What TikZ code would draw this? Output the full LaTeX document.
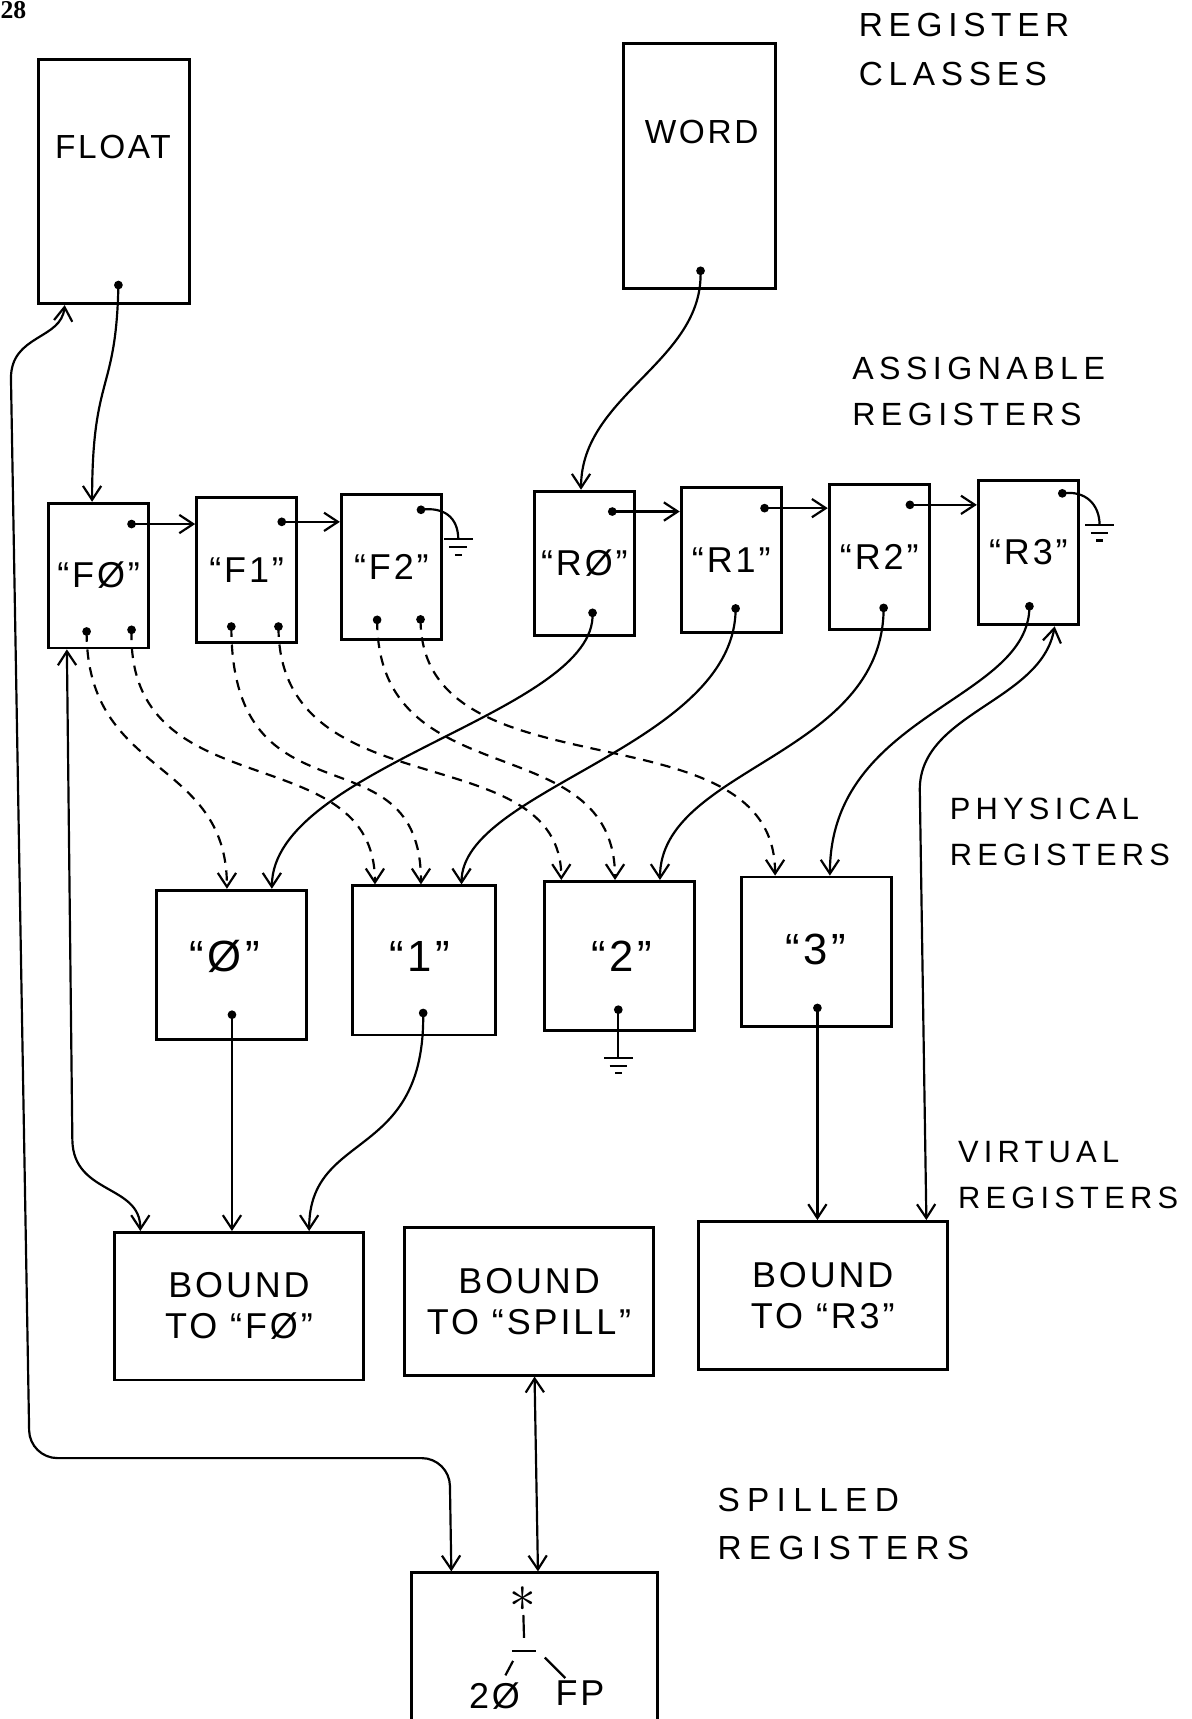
\documentclass[tikz,border=0pt]{standalone}
\usepackage{fontspec}
\setmainfont{Liberation Sans}
\newfontfamily\hand[LetterSpace=8]{Liberation Sans}
\newfontfamily\handwide[LetterSpace=17]{Liberation Sans}
\newfontfamily\handwider[LetterSpace=22]{Liberation Sans}
\newfontfamily\pagefont{Liberation Serif}
\usetikzlibrary{arrows.meta, calc}

\tikzset{
  regbox/.style={draw, line width=1.1pt, inner sep=0pt},
  classbox/.style={regbox, minimum width=2.07cm, minimum height=3.345cm},
  asgbox/.style={regbox, minimum width=1.37cm, minimum height=1.98cm, font=\hand\fontsize{14}{14}\selectfont},
  physbox/.style={regbox, minimum width=2.05cm, minimum height=2.04cm},
  virtbox/.style={regbox, minimum width=3.41cm, minimum height=2.02cm, align=center, font=\hand\fontsize{14}{16}\selectfont},
  blob/.style={circle, fill, inner sep=0pt, minimum size=3.4pt},
  boxtext/.style={inner sep=0pt, font=\hand\fontsize{13}{13}\selectfont},
  regtext/.style={inner sep=0pt, font=\hand\fontsize{17}{17}\selectfont},
  layerlbl/.style={anchor=west, inner sep=0pt, align=left, font=\handwide\fontsize{12}{18}\selectfont},
  conn/.style={line width=0.85pt},
  dconn/.style={conn, dash pattern=on 4pt off 3pt},
  gnd/.pic={\draw[line width=0.85pt] (-13,0) -- (13,0) (-8,7) -- (8,7) (-3,14) -- (3,14);}
}

\begin{document}
\begin{tikzpicture}[x=0.015cm, y=-0.015cm, >={Straight Barb[length=1.9mm,width=2.5mm]}]
  \useasboundingbox (0,0) rectangle (1087,1568);

  \node[anchor=north west, inner sep=0pt, font=\pagefont\bfseries\fontsize{10}{10}\selectfont] (pg) at (0,1) {28};

  \node[classbox] (float) at (104,165.5) {};
  \node[boxtext] (floatT) at (103,134) {FLOAT};
  \node[classbox] (word) at (638,151.5) {};
  \node[boxtext] (wordT) at (640,120) {WORD};

  \node[asgbox] (f0) at (90,525) {“FØ”};
  \node[asgbox] (f1) at (225,520) {“F1”};
  \node[asgbox] (f2) at (357,517) {“F2”};
  \node[asgbox] (r0) at (533,514) {“RØ”};
  \node[asgbox] (r1) at (667,511) {“R1”};
  \node[asgbox] (r2) at (802,508) {“R2”};
  \node[asgbox] (r3) at (938,504) {“R3”};

  \node[physbox] (p0) at (211,880) {};
  \node[regtext] (p0T) at (205,872) {“Ø”};
  \node[physbox, minimum width=1.96cm] (p1) at (387,876) {};
  \node[regtext] (p1T) at (383,872) {“1”};
  \node[physbox] (p2) at (565,872) {};
  \node[regtext] (p2T) at (567,872) {“2”};
  \node[physbox] (p3) at (745,868) {};
  \node[regtext] (p3T) at (744,866) {“3”};

  \node[virtbox] (v0) at (218,1191.5) {BOUND\\TO “FØ”};
  \node[virtbox] (vs) at (482.6,1187) {BOUND\\TO “SPILL”};
  \node[virtbox] (v3) at (750.5,1181.5) {BOUND\\TO “R3”};

  \node[regbox, minimum width=3.37cm, minimum height=2.48cm] (spill) at (487.7,1517.3) {};
  \node[inner sep=1pt, font=\fontsize{20}{20}\selectfont] (star) at (477,1459) {$\ast$};
  \coordinate (bar) at (478,1506);
  \node[boxtext, font=\hand\fontsize{14}{14}\selectfont] (twenty) at (451,1547) {2Ø};
  \node[boxtext, font=\hand\fontsize{14}{14}\selectfont] (fp) at (529,1544) {FP};
  \draw[conn] (star) -- ($(bar)+(0,-12)$);
  \draw[conn] ($(bar)+(-11,0)$) -- ($(bar)+(11,0)$);
  \draw[conn, shorten >=3pt] ($(bar)+(-10,9)$) -- (twenty);
  \draw[conn, shorten >=1pt] ($(bar)+(19,6)$) -- (fp);

  \node[layerlbl, font=\handwide\fontsize{13}{19}\selectfont] (lblclass) at (783,45.5) {REGISTER\\CLASSES};
  \node[layerlbl, font=\handwide\fontsize{12.5}{18}\selectfont] (lblasg) at (777,357) {ASSIGNABLE\\REGISTERS};
  \node[layerlbl] (lblphys) at (866,759) {PHYSICAL\\REGISTERS};
  \node[layerlbl] (lblvirt) at (873.5,1072) {VIRTUAL\\REGISTERS};
  \node[layerlbl, font=\handwider\fontsize{13}{18.5}\selectfont] (lblspill) at (654,1390) {SPILLED\\REGISTERS};

  \node[blob] (floatd) at (108,260) {};
  \node[blob] (wordd) at (639,247) {};
  \node[blob] (f0n) at (120,478) {};
  \node[blob] (f0a) at (79,576) {};
  \node[blob] (f0b) at (120,574.5) {};
  \node[blob] (f1n) at (257,476) {};
  \node[blob] (f1a) at (211,571.5) {};
  \node[blob] (f1b) at (254,571.5) {};
  \node[blob] (f2n) at (384,465) {};
  \node[blob] (f2a) at (344,565.4) {};
  \node[blob] (f2b) at (383.6,565) {};
  \node[blob] (r0n) at (558.5,466.6) {};
  \node[blob] (r0d) at (540.5,559) {};
  \node[blob] (r1n) at (697.4,463.5) {};
  \node[blob] (r1d) at (671,555) {};
  \node[blob] (r2n) at (830,460.5) {};
  \node[blob] (r2d) at (806,554.5) {};
  \node[blob] (r3n) at (969,450) {};
  \node[blob] (r3d) at (939,553) {};
  \node[blob] (p0d) at (211.6,925.6) {};
  \node[blob] (p1d) at (386,924) {};
  \node[blob] (p2d) at (564,921) {};
  \node[blob] (p3d) at (745.6,919.4) {};

  \draw[conn,->] (floatd.center) .. controls (106,360) and (84,340) .. ($(f0.north)+(-6,0)$);
  \draw[conn,->] (wordd.center) .. controls (642,330) and (530,360) .. ($(r0.north)+(-3,0)$);

  \draw[conn,->] (f0n.center) -- (f0n -| f1.west);
  \draw[conn,->] (f1n.center) -- (f1n -| f2.west);
  \draw[conn,->] (r0n.center) -- (r0n -| r1.west);
  \draw[conn,->] (r1n.center) -- (r1n -| r2.west);
  \draw[conn,->] (r2n.center) -- (r2n -| r3.west);

  \coordinate (f2g) at (418,492);
  \draw[conn] (f2n.center) .. controls (405,462) and (418,472) .. (f2g);
  \pic at (f2g) {gnd};
  \coordinate (r3g) at (1003,479);
  \draw[conn] (r3n.center) .. controls (990,447) and (1003,460) .. (r3g);
  \pic at (r3g) {gnd};
  \coordinate (p2g) at (564,965);
  \draw[conn] (p2d.center) -- (p2g);
  \pic at (p2g) {gnd};

  \draw[dconn,->] (f0a.center) .. controls (79,710) and (207,690) .. ($(p0.north)+(-4,0)$);
  \draw[dconn,->] (f0b.center) .. controls (115,740) and (342,670) .. ($(p1.north)+(-45,0)$);
  \draw[dconn,->] (f1a.center) .. controls (211,760) and (384,660) .. ($(p1.north)+(-3,0)$);
  \draw[dconn,->] (f1b.center) .. controls (254,740) and (512,670) .. ($(p2.north)+(-53,0)$);
  \draw[dconn,->] (f2a.center) .. controls (344,730) and (561,660) .. ($(p2.north)+(-4,0)$);
  \draw[dconn,->] (f2b.center) .. controls (384,730) and (707,640) .. ($(p3.north)+(-38,0)$);

  \draw[conn,->] (r0d.center) .. controls (545,650) and (248,700) .. ($(p0.north)+(37,0)$);
  \draw[conn,->] (r1d.center) .. controls (671,680) and (421,720) .. ($(p1.north)+(34,0)$);
  \draw[conn,->] (r2d.center) .. controls (806,690) and (602,700) .. ($(p2.north)+(37,0)$);
  \draw[conn,->] (r3d.center) .. controls (939,640) and (757,650) .. ($(p3.north)+(12,0)$);

  \draw[conn,<->] ($(r3.south)+(24,0)$) .. controls (950,640) and (839,650) .. (839,720) -- ($(v3.north)+(94.5,0)$);

  \draw[conn,->] (p0d.center) -- (p0d |- v0.north);
  \draw[conn,->] (p1d.center) .. controls (388,1060) and (282,1030) .. ($(v0.north)+(64,0)$);
  \draw[conn,->] (p3d.center) -- (p3d |- v3.north);

  \draw[conn,<->] ($(f0.south)+(-29,0)$) -- (66,1040) .. controls (67,1090) and (128,1080) .. ($(v0.north)+(-90,0)$);

  \draw[conn,<->] ($(vs.south)+(5,0)$) -- ($(spill.north)+(3,0)$);
  \draw[conn,<->] ($(float.south)+(-45,0)$) .. controls (56,310) and (10,305) .. (10,345)
    [rounded corners=3.8mm] -- (27,1330) -- (410,1330) -- ($(spill.north)+(-76,0)$);
\end{tikzpicture}
\end{document}
